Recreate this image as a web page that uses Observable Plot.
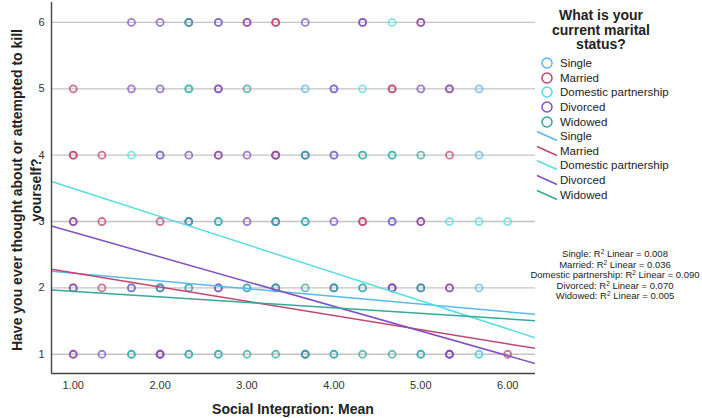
<!DOCTYPE html>
<html>
<head>
<meta charset="utf-8">
<script src="https://cdn.jsdelivr.net/npm/d3@7"></script>
<script src="https://cdn.jsdelivr.net/npm/@observablehq/plot@0.6"></script>
<style>
  html, body { margin: 0; padding: 0; background: #fff; }
  body { font-family: "Liberation Sans", Arial, sans-serif; color: #222; }
  #wrap { position: relative; width: 702px; height: 418px; overflow: hidden; }
  #wrap > svg { position: absolute; left: 0; top: 0; }
  .ytitle { position: absolute; left: -173px; top: 171px; width: 400px; height: 38px;
            transform: rotate(-90deg); transform-origin: 50% 50%;
            text-align: center; font-weight: bold; font-size: 14px; line-height: 19px; }
  .xtitle { position: absolute; left: 51px; top: 401px; width: 484px; text-align: center;
            font-weight: bold; font-size: 14px; line-height: 16px; }
  .ltitle { position: absolute; left: 541px; top: 8px; width: 120px; text-align: center;
            font-weight: bold; font-size: 14px; line-height: 14.5px; }
  .legend { position: absolute; left: 535px; top: 56px; }
  .legend .row { height: 14.6px; display: flex; align-items: center; font-size: 11.5px; white-space: nowrap; }
  .legend svg { display: block; width: 24px; height: 14px; margin-right: 1px; flex: none; }
  .rsq { position: absolute; left: 528px; top: 249px; width: 174px; text-align: center;
         font-size: 9.5px; line-height: 10.6px; white-space: nowrap; }
  .rsq sup { font-size: 6.5px; vertical-align: 3px; line-height: 0; }
</style>
</head>
<body>
<div id="wrap"></div>
<script>
// Marital status groups and their colours
const statuses = ["Single", "Married", "Domestic partnership", "Divorced", "Widowed"];
const statusColors = ["#5cb8f2", "#c4466a", "#58dde2", "#8050c4", "#35a89c"];

// Axis ticks
const xTicks = [1, 2, 3, 4, 5, 6];
const yTicks = [1, 2, 3, 4, 5, 6];

// Cases per group: [Social Integration mean, suicidal thoughts score]
const singlePts = [[2.33,6],[2.67,6],
  [3.67,5],[4,5],[5.67,5],
  [2,4],[3.67,4],[4,4],[5.67,4],
  [2.33,3],[2.67,3],[3.33,3],[3.67,3],[4.67,3],
  [1.67,2],[2,2],[2.33,2],[3,2],[3.33,2],[4,2],[4.33,2],[5,2],[5.67,2],
  [1.67,1],[2.33,1],[2.67,1],[3.67,1],[4,1],[5,1],[5.67,1]];
const marriedPts = [[3,6],[3.33,6],[3.33,6],[5,6],
  [1,5],[4.67,5],[4.67,5],[5.33,5],
  [1,4],[1,4],[1.33,4],[2.67,4],[3.33,4],[3.33,4],[5.33,4],
  [1,3],[1.33,3],[2,3],[4.33,3],[4.33,3],[5,3],
  [1,2],[1.33,2],[4.67,2],[5.33,2],
  [1,1],[2,1],[5.33,1],[6,1]];
const partnerPts = [[4.67,6],
  [2.33,5],[4.33,5],
  [1.67,4],[4.33,4],[4.67,4],
  [5.33,3],[5.67,3],[6,3],
  [5.67,1]];
const divorcedPts = [[1.67,6],[2,6],[2.33,6],[2.67,6],[3,6],[3.67,6],[4.33,6],[4.33,6],[5,6],
  [1.67,5],[2,5],[2.67,5],[2.67,5],[4,5],[5,5],[5.33,5],
  [2,4],[2.33,4],[2.67,4],[3,4],[3.33,4],[3.67,4],[4,4],
  [1,3],[2.33,3],[3,3],[3.33,3],[4,3],[4.67,3],[5,3],
  [1,2],[1.67,2],[2,2],[2.67,2],[2.67,2],[3.33,2],[4,2],[4.67,2],[4.67,2],[5,2],[5.33,2],
  [1,1],[1.33,1],[2,1],[2,1],[3.67,1],[5.33,1],[5.33,1]];
const widowedPts = [[2.33,6],
  [2.33,5],[3,5],
  [3.67,4],[4.33,4],[4.67,4],[5,4],
  [2.33,3],[2.67,3],[3.33,3],[3.67,3],
  [2,2],[2.33,2],[3,2],[3.33,2],[3.67,2],[4,2],[4.33,2],[5,2],
  [1.67,1],[2.33,1],[2.67,1],[3,1],[3.33,1],[3.67,1],[4,1],[4.33,1],[4.67,1],[5,1]];

// Linear fit per group (y = intercept + slope * x) and its R²
const fitIntercepts = [2.34, 2.44, 3.92, 3.21, 2.03];
const fitSlopes = [-0.117, -0.214, -0.423, -0.372, -0.083];
const rSquared = ["0.008", "0.036", "0.090", "0.070", "0.005"];

const xDomain = [0.75, 6.32];
const yDomain = [0.71, 6.3];

const groupPts = [singlePts, marriedPts, partnerPts, divorcedPts, widowedPts];
const cases = groupPts.flatMap((pts, i) => pts.map(([x, y]) => ({x, y, g: statuses[i]})));
const fits = statuses.flatMap((g, i) =>
  xDomain.map(x => ({x, y: fitIntercepts[i] + fitSlopes[i] * x, g})));

const chart = Plot.plot({
  width: 702,
  height: 418,
  marginLeft: 51,
  marginRight: 167,
  marginTop: 2,
  marginBottom: 45,
  style: {fontFamily: "'Liberation Sans', Arial, sans-serif", fontSize: "11px", color: "#333", background: "transparent"},
  x: {domain: xDomain},
  y: {domain: yDomain},
  color: {domain: statuses, range: statusColors},
  marks: [
    Plot.ruleY(yTicks, {stroke: "#c4c4c4", strokeWidth: 1.3}),
    Plot.dot(cases, {x: "x", y: "y", stroke: "g", r: 3.5, strokeWidth: 1.8, strokeOpacity: 0.75}),
    Plot.line(fits, {x: "x", y: "y", z: "g", stroke: "g", strokeWidth: 1.5, clip: true}),
    Plot.axisX({ticks: xTicks, tickFormat: d => d.toFixed(2), tickSize: 0, tickPadding: 8, label: null}),
    Plot.axisY({ticks: yTicks, tickFormat: d => String(d), tickSize: 0, tickPadding: 7, label: null}),
    Plot.ruleX([xDomain[0]], {stroke: "#444", strokeWidth: 1.4}),
    Plot.ruleY([yDomain[0]], {stroke: "#444", strokeWidth: 1.4})
  ]
});

const wrap = document.getElementById("wrap");
wrap.appendChild(chart);

function addDiv(cls, html) {
  const d = document.createElement("div");
  d.className = cls;
  d.innerHTML = html;
  wrap.appendChild(d);
  return d;
}

addDiv("ytitle", "Have you ever thought about or attempted to kill<br>yourself?");
addDiv("xtitle", "Social Integration: Mean");
addDiv("ltitle", "What is your<br>current marital<br>status?");

// Legend: point symbols, then fit-line symbols
const legend = addDiv("legend", "");
statuses.forEach((s, i) => {
  legend.insertAdjacentHTML("beforeend",
    `<div class="row"><svg viewBox="0 0 24 14"><circle cx="12" cy="7" r="5" fill="none" stroke="${statusColors[i]}" stroke-width="1.5"/></svg>${s}</div>`);
});
statuses.forEach((s, i) => {
  legend.insertAdjacentHTML("beforeend",
    `<div class="row"><svg viewBox="0 0 24 14"><line x1="2" y1="2.5" x2="22" y2="11.5" stroke="${statusColors[i]}" stroke-width="1.5"/></svg>${s}</div>`);
});

addDiv("rsq", statuses.map((s, i) => `${s}: R<sup>2</sup> Linear = ${rSquared[i]}`).join("<br>"));
</script>
</body>
</html>
